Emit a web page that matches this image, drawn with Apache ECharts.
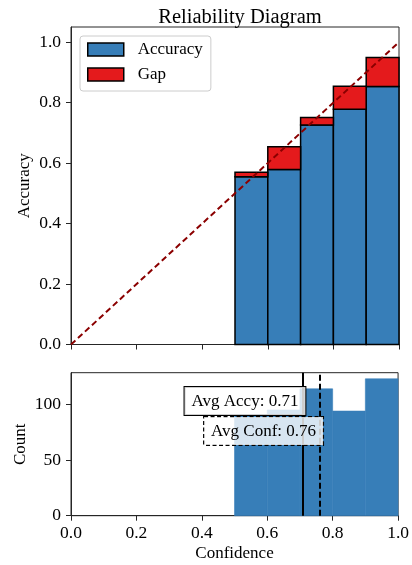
<!DOCTYPE html>
<html>
<head>
<meta charset="utf-8">
<script src="https://cdn.jsdelivr.net/npm/echarts@6/dist/echarts.min.js"></script>
<style>html,body{margin:0;padding:0;background:#fff}#c{width:412px;height:565px}</style>
</head>
<body>
<div id="c"></div>
<script>
// ---- data ----
const binLo = [0.5, 0.6, 0.7, 0.8, 0.9];
const binHi = [0.6, 0.7, 0.8, 0.9, 1.0];
const accuracy = [0.555, 0.579, 0.726, 0.778, 0.853];
const confidence = [0.570, 0.654, 0.751, 0.854, 0.949];
const counts = [90, 95, 114, 94, 123];
const avgAcc = 0.709;
const avgConf = 0.763;
const avgLabels = ['Avg Accy: 0.71', 'Avg Conf: 0.76'];
const labelY = [103, 76];
const xTicks = [0, 0.2, 0.4, 0.6, 0.8, 1.0];
const yTicksTop = [0, 0.2, 0.4, 0.6, 0.8, 1.0];
const yTicksBottom = [0, 50, 100];

const FONT = '"Liberation Serif", "Times New Roman", serif';
const BLUE = '#377eb8', RED = '#e41a1c', AX = '#262626';

function rectItem(fill, stroke, lw) {
  return function (params, api) {
    const p0 = api.coord([api.value(0), api.value(3)]);
    const p1 = api.coord([api.value(1), api.value(2)]);
    return {
      type: 'rect',
      shape: { x: p0[0], y: p0[1], width: p1[0] - p0[0], height: p1[1] - p0[1] },
      style: { fill: fill, stroke: stroke, lineWidth: lw }
    };
  };
}

const accData = binLo.map((l, i) => [l, binHi[i], 0, accuracy[i]]);
const gapData = binLo.map((l, i) => [l, binHi[i], accuracy[i], confidence[i]]);
const histData = binLo.map((l, i) => [l, binHi[i], 0, counts[i]]);
const labelData = [[avgAcc, labelY[0], 0], [avgConf, labelY[1], 1]];

const axisCommon = {
  nameMoveOverlap: false,
  axisLine: { show: true, lineStyle: { color: AX, width: 1 } },
  axisTick: { show: true, length: 5, inside: false, lineStyle: { color: AX, width: 1 } },
  splitLine: { show: false },
  axisLabel: { fontFamily: FONT, fontSize: 17.5, color: '#000' }
};

const chart = echarts.init(document.getElementById('c'), null, { renderer: 'canvas' });
chart.setOption({
  animation: false,
  backgroundColor: '#fff',
  title: {
    text: 'Reliability Diagram', left: 235, top: 2, textAlign: 'center',
    textStyle: { fontFamily: FONT, fontSize: 20.5, fontWeight: 'normal', color: '#000' }
  },
  legend: {
    data: ['Accuracy', 'Gap'], orient: 'vertical', left: 80, top: 36,
    padding: [5, 8, 8, 7], itemWidth: 36, itemHeight: 13, itemGap: 8, icon: 'rect',
    itemStyle: { borderColor: '#000', borderWidth: 1.5 },
    textStyle: { fontFamily: FONT, fontSize: 17, lineHeight: 17, color: '#000', padding: [0, 0, 0, 9] },
    backgroundColor: 'rgba(255,255,255,0.8)', borderColor: '#cccccc', borderWidth: 1, borderRadius: 3
  },
  grid: [
    { left: 71, right: 13, top: 27, bottom: 220.5, show: true, borderColor: AX, borderWidth: 1 },
    { left: 71, right: 13, top: 372.7, bottom: 49.3, show: true, borderColor: AX, borderWidth: 1 }
  ],
  xAxis: [
    Object.assign({}, axisCommon, {
      gridIndex: 0, type: 'value', min: 0, max: 1, interval: 0.2,
      axisLabel: { show: false },
      axisTick: Object.assign({}, axisCommon.axisTick, { customValues: xTicks })
    }),
    Object.assign({}, axisCommon, {
      gridIndex: 1, type: 'value', min: 0, max: 1, interval: 0.2,
      name: 'Confidence', nameLocation: 'middle', nameGap: 29,
      nameTextStyle: { fontFamily: FONT, fontSize: 17, color: '#000' },
      axisTick: Object.assign({}, axisCommon.axisTick, { customValues: xTicks }),
      axisLabel: Object.assign({}, axisCommon.axisLabel, { margin: 9, customValues: xTicks, formatter: v => v.toFixed(1) })
    })
  ],
  yAxis: [
    Object.assign({}, axisCommon, {
      gridIndex: 0, type: 'value', min: 0, max: 1.05, interval: 0.2,
      name: 'Accuracy', nameLocation: 'middle', nameGap: 38,
      nameTextStyle: { fontFamily: FONT, fontSize: 17, color: '#000' },
      axisTick: Object.assign({}, axisCommon.axisTick, { customValues: yTicksTop }),
      axisLabel: Object.assign({}, axisCommon.axisLabel, { margin: 10, customValues: yTicksTop, formatter: v => v.toFixed(1) })
    }),
    Object.assign({}, axisCommon, {
      gridIndex: 1, type: 'value', min: 0, max: 128.5, interval: 50,
      name: 'Count', nameLocation: 'middle', nameGap: 42,
      nameTextStyle: { fontFamily: FONT, fontSize: 17, color: '#000' },
      axisTick: Object.assign({}, axisCommon.axisTick, { customValues: yTicksBottom }),
      axisLabel: Object.assign({}, axisCommon.axisLabel, { margin: 10, customValues: yTicksBottom })
    })
  ],
  series: [
    {
      name: 'Accuracy', type: 'custom', xAxisIndex: 0, yAxisIndex: 0, z: 2,
      itemStyle: { color: BLUE, borderColor: '#000', borderWidth: 1.5 },
      encode: { x: [0, 1], y: [2, 3] },
      renderItem: rectItem(BLUE, '#000', 1.5), data: accData
    },
    {
      name: 'Gap', type: 'custom', xAxisIndex: 0, yAxisIndex: 0, z: 2,
      itemStyle: { color: RED, borderColor: '#000', borderWidth: 1.5 },
      encode: { x: [0, 1], y: [2, 3] },
      renderItem: rectItem(RED, '#000', 1.5), data: gapData
    },
    {
      name: 'diag', type: 'line', xAxisIndex: 0, yAxisIndex: 0, z: 4,
      symbol: 'none', silent: true,
      lineStyle: { color: '#8b0000', width: 2, type: [6, 3.5] },
      data: [[0, 0], [1, 1]]
    },
    {
      name: 'hist', type: 'custom', xAxisIndex: 1, yAxisIndex: 1, z: 2,
      encode: { x: [0, 1], y: [2, 3] },
      renderItem: rectItem(BLUE, BLUE, 0.6), data: histData,
      markLine: {
        silent: true, symbol: 'none', label: { show: false }, z: 3,
        data: [
          { xAxis: avgAcc, lineStyle: { color: '#000', width: 2, type: 'solid' } },
          { xAxis: avgConf, lineStyle: { color: '#000', width: 2, type: [6, 3] } }
        ]
      }
    },
    {
      name: 'labels', type: 'custom', xAxisIndex: 1, yAxisIndex: 1, z: 6, silent: true,
      renderItem: function (params, api) {
        const p = api.coord([api.value(0), api.value(1)]);
        const k = api.value(2);
        return {
          type: 'text', x: p[0] + 2.5, y: p[1],
          style: {
            text: avgLabels[k], align: 'right', verticalAlign: 'middle',
            fontFamily: FONT, fontSize: 17, lineHeight: 17, fill: '#000',
            backgroundColor: 'rgba(255,255,255,0.8)', borderColor: '#000', borderWidth: 1,
            borderDash: k === 1 ? [4, 2.5] : null,
            padding: [6, 7, 5, 7]
          }
        };
      },
      data: labelData
    }
  ]
});
</script>
</body>
</html>
